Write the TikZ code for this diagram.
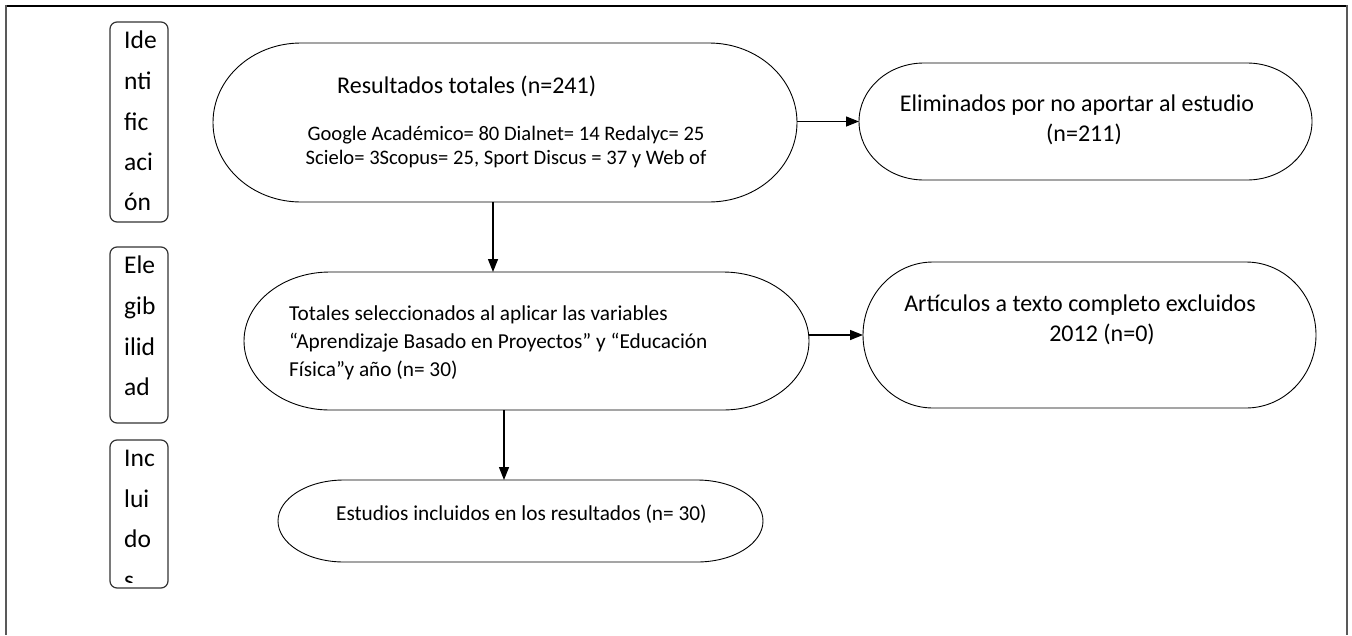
\documentclass[tikz,border=0pt]{standalone}
\usepackage{fontspec}
\setmainfont{Carlito}
\usetikzlibrary{arrows.meta}
\newcommand\mystadium[5]{%
  \pgfmathsetmacro\stry{(#4-#2)/2}%
  \draw[shapeline] (#1+#5,#2) -- (#3-#5,#2) arc[start angle=-90,end angle=90,x radius=#5,y radius=\stry] -- (#1+#5,#4) arc[start angle=90,end angle=270,x radius=#5,y radius=\stry] -- cycle;}
\begin{document}
\begin{tikzpicture}[x=1pt,y=-1pt,
  phase/.style={draw=black!80, line width=1.2pt, rounded corners=7pt, inner sep=0pt},
  shapeline/.style={draw=black, line width=0.9pt},
  anchorbox/.style={draw=none, inner sep=0pt, outer sep=0pt},
  arr/.style={draw=black, line width=1.4pt, -{Triangle[length=13pt,width=10pt]}},
  big/.style={font=\fontsize{24}{29}\selectfont, inner sep=0pt},
  mid/.style={font=\fontsize{21.3}{28}\selectfont, inner sep=0pt},
  small/.style={font=\fontsize{20.6}{24}\selectfont, inner sep=0pt},
  side/.style={font=\fontsize{25.5}{29}\selectfont, inner sep=0pt, anchor=base west},
]
\useasboundingbox (0,0) rectangle (1352,635);
% frame
\draw[line width=1.2pt] (5,6) -- (1348,6);
\draw[black!65, line width=2.5pt] (6,5) -- (6,635);
\draw[black!65, line width=2.5pt] (1347,5) -- (1347,635);

% phase boxes
\node[phase, minimum width=58pt, minimum height=200pt] (p1) at (139,122) {};
\node[phase, minimum width=58pt, minimum height=176pt] (p2) at (139,335) {};
\node[phase, minimum width=58pt, minimum height=148pt] (p3) at (139,514) {};
\node[side] (p1a) at (124,48) {Ide};
\node[side] (p1b) at (124,89) {nti};
\node[side] (p1c) at (124,130) {fic};
\node[side] (p1d) at (124,170) {aci};
\node[side] (p1e) at (124,210) {ón};
\node[side] (p2a) at (124,273) {Ele};
\node[side] (p2b) at (124,314) {gib};
\node[side] (p2c) at (124,355) {ilid};
\node[side] (p2d) at (124,395) {ad};
\begin{scope}
\clip (110,440) rectangle (168,582);
\node[side] (p3a) at (124,466) {Inc};
\node[side] (p3b) at (124,507) {lui};
\node[side] (p3c) at (124,547) {do};
\node[side] (p3d) at (124,588) {s};
\end{scope}

% flow shapes
\node[anchorbox, minimum width=584pt, minimum height=159pt] (e1) at (505,122.5) {};
\node[anchorbox, minimum width=453pt, minimum height=117pt] (e2) at (1085.5,121.5) {};
\node[anchorbox, minimum width=565pt, minimum height=138pt] (e3) at (526.5,341) {};
\node[anchorbox, minimum width=453pt, minimum height=146pt] (e5) at (1089.5,335) {};
\node[anchorbox, minimum width=485pt, minimum height=82pt] (e4) at (520.5,521) {};
\mystadium{213}{43}{797}{202}{88}
\mystadium{859}{63}{1312}{180}{65}
\mystadium{244}{272}{809}{410}{86}
\mystadium{863}{262}{1316}{408}{70}
\mystadium{278}{480}{763}{562}{66}

% texts
\node[big, anchor=base west] (t1a) at (337,93) {Resultados totales (n=241)};
\node[small, anchor=base] (t1b) at (506,140) {Google Académico= 80 Dialnet= 14 Redalyc= 25};
\node[small, anchor=base] (t1c) at (506,164) {Scielo= 3Scopus= 25, Sport Discus = 37 y Web of};
\node[big, anchor=base] (t2a) at (1077,111) {Eliminados por no aportar al estudio};
\node[big, anchor=base] (t2b) at (1084,141) {(n=211)};
\node[mid, anchor=base west] (t3a) at (289,320) {Totales seleccionados al aplicar las variables};
\node[mid, anchor=base west] (t3b) at (289,348) {“Aprendizaje Basado en Proyectos” y “Educación};
\node[mid, anchor=base west] (t3c) at (289,376) {Física”y año (n= 30)};
\node[big, anchor=base] (t5a) at (1080,311) {Artículos a texto completo excluidos};
\node[big, anchor=base] (t5b) at (1102,341) {2012 (n=0)};
\node[mid, anchor=base east] (t4a) at (707,520) {Estudios incluidos en los resultados (n= 30)};

% connectors
\draw[arr] (e2.west -| e1.east) -- (e2.west);
\draw[arr] (e5.west -| e3.east) -- (e5.west);
\draw[arr] ([xshift=-12pt]e1.south) -- ([xshift=-12pt]e1.south |- e3.north);
\draw[arr] ([xshift=-22.5pt]e3.south) -- ([xshift=-22.5pt]e3.south |- e4.north);
\end{tikzpicture}
\end{document}
